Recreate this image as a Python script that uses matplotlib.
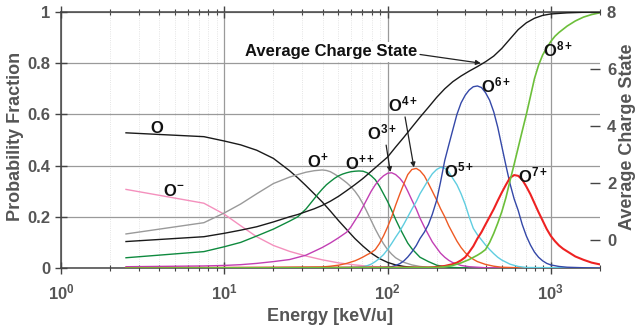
import numpy as np
import matplotlib
matplotlib.use("Agg")
import matplotlib.pyplot as plt

plt.rcParams['font.family'] = ['Liberation Sans', 'DejaVu Sans']
plt.rcParams['mathtext.fontset'] = 'custom'
plt.rcParams['mathtext.rm'] = 'Liberation Sans'
plt.rcParams['mathtext.bf'] = 'Liberation Sans:bold'
plt.rcParams['mathtext.it'] = 'Liberation Sans:italic'

# ---------------- data (energy in keV/u, probability fraction) ----------------
e_Om = [2.5, 7.5, 10, 12.6, 15.8, 20, 25.1, 31.6, 39.8, 50.1, 63.1, 79.4, 100, 126, 158, 2000]
p_Om = [0.307, 0.253, 0.21, 0.165, 0.122, 0.088, 0.065, 0.047, 0.032, 0.02, 0.012, 0.006,
        0.003, 0.001, 0, 0]

e_O0 = [2.5, 7.5, 10, 12.6, 15.8, 20, 25.1, 28.2, 31.6, 35.5, 39.8, 44.7, 50.1, 56.2, 63.1,
        70.8, 79.4, 89.1, 100, 112, 126, 141, 158, 200, 2000]
p_O0 = [0.528, 0.513, 0.496, 0.481, 0.46, 0.428, 0.38, 0.352, 0.322, 0.29, 0.258, 0.222,
        0.185, 0.15, 0.115, 0.085, 0.058, 0.037, 0.022, 0.012, 0.006, 0.003, 0.001, 0, 0]

e_O1 = [2.5, 7.5, 10, 12.6, 15.8, 20, 25.1, 28.2, 31.6, 35.5, 39.8, 42.2, 44.7, 47.3, 50.1,
        53.1, 56.2, 59.6, 63.1, 66.8, 70.8, 75, 79.4, 84.1, 89.1, 94.4, 100, 106, 112, 119,
        126, 141, 158, 178, 200, 251, 2000]
p_O1 = [0.133, 0.177, 0.215, 0.25, 0.29, 0.33, 0.355, 0.365, 0.374, 0.38, 0.383, 0.381,
        0.376, 0.367, 0.357, 0.345, 0.333, 0.318, 0.3, 0.278, 0.25, 0.218, 0.185, 0.152,
        0.122, 0.095, 0.072, 0.054, 0.04, 0.03, 0.022, 0.012, 0.006, 0.003, 0.001, 0, 0]

e_O2 = [2.5, 7.5, 10, 12.6, 15.8, 20, 25.1, 28.2, 31.6, 33.5, 35.5, 37.6, 39.8, 42.2, 44.7,
        47.3, 50.1, 53.1, 56.2, 59.6, 63.1, 66.8, 70.8, 75, 79.4, 84.1, 89.1, 94.4, 100, 106,
        112, 119, 126, 133, 141, 150, 158, 178, 200, 224, 251, 316, 2000]
p_O2 = [0.04, 0.064, 0.083, 0.1, 0.125, 0.152, 0.183, 0.2, 0.23, 0.25, 0.27, 0.29, 0.308,
        0.325, 0.338, 0.35, 0.36, 0.367, 0.372, 0.376, 0.378, 0.379, 0.378, 0.372, 0.36,
        0.345, 0.32, 0.29, 0.26, 0.225, 0.19, 0.155, 0.125, 0.097, 0.075, 0.057, 0.042,
        0.025, 0.011, 0.005, 0.002, 0, 0]

e_O3 = [2.5, 7.5, 10, 12.6, 15.8, 20, 25.1, 31.6, 35.5, 39.8, 44.7, 50.1, 56.2, 59.6, 63.1,
        66.8, 70.8, 75, 79.4, 84.1, 89.1, 94.4, 100, 106, 112, 119, 126, 133, 141, 150, 158,
        168, 178, 188, 200, 211, 224, 237, 251, 282, 316, 398, 2000]
p_O3 = [0.005, 0.008, 0.01, 0.013, 0.018, 0.025, 0.033, 0.05, 0.065, 0.08, 0.098, 0.118,
        0.14, 0.16, 0.185, 0.21, 0.24, 0.27, 0.3, 0.325, 0.345, 0.36, 0.37, 0.372, 0.365,
        0.35, 0.33, 0.3, 0.265, 0.23, 0.195, 0.16, 0.13, 0.102, 0.078, 0.058, 0.042, 0.03,
        0.021, 0.01, 0.005, 0.001, 0]

e_O4 = [2.5, 20, 39.8, 44.7, 50.1, 56.2, 63.1, 66.8, 70.8, 75, 79.4, 84.1, 89.1, 94.4, 100,
        106, 112, 119, 126, 133, 141, 150, 158, 168, 178, 188, 200, 211, 224, 237, 251, 266,
        282, 299, 316, 335, 355, 398, 447, 501, 631, 2000]
p_O4 = [0, 0.002, 0.004, 0.007, 0.011, 0.018, 0.028, 0.035, 0.043, 0.052, 0.06, 0.072,
        0.095, 0.125, 0.16, 0.2, 0.245, 0.29, 0.33, 0.365, 0.385, 0.389, 0.38, 0.36, 0.33,
        0.3, 0.265, 0.232, 0.2, 0.165, 0.135, 0.105, 0.08, 0.06, 0.045, 0.034, 0.025,
        0.014, 0.007, 0.003, 0.001, 0]

e_O5 = [2.5, 50.1, 63.1, 70.8, 75, 79.4, 84.1, 89.1, 94.4, 100, 106, 112, 119, 126, 133,
        141, 150, 158, 168, 178, 188, 200, 211, 224, 237, 251, 266, 282, 299, 316, 335, 355,
        376, 398, 422, 447, 473, 501, 562, 631, 708, 2000]
p_O5 = [0, 0.001, 0.003, 0.005, 0.009, 0.015, 0.025, 0.037, 0.052, 0.072, 0.096, 0.12,
        0.145, 0.172, 0.2, 0.23, 0.26, 0.29, 0.318, 0.345, 0.368, 0.385, 0.393, 0.39, 0.375,
        0.35, 0.325, 0.29, 0.248, 0.2, 0.155, 0.13, 0.11, 0.09, 0.072, 0.056, 0.042, 0.031,
        0.015, 0.006, 0.002, 0]

e_O6 = [2.5, 89.1, 100, 106, 112, 119, 126, 133, 141, 150, 158, 168, 178, 188, 200, 211,
        224, 237, 251, 266, 282, 299, 316, 335, 355, 376, 398, 422, 447, 473, 501, 531, 562,
        596, 631, 668, 708, 750, 794, 841, 891, 944, 1000, 1122, 1259, 1585, 2000]
p_O6 = [0, 0.001, 0.003, 0.005, 0.01, 0.017, 0.028, 0.043, 0.063, 0.088, 0.115, 0.14,
        0.17, 0.21, 0.265, 0.335, 0.42, 0.48, 0.54, 0.6, 0.645, 0.675, 0.695, 0.708, 0.711,
        0.705, 0.685, 0.655, 0.61, 0.55, 0.475, 0.4, 0.33, 0.27, 0.225, 0.17, 0.125, 0.09,
        0.062, 0.042, 0.028, 0.018, 0.012, 0.006, 0.003, 0.001, 0]

e_O7 = [2.5, 178, 200, 224, 251, 266, 282, 299, 316, 335, 355, 376, 398, 422, 447, 473,
        501, 531, 562, 596, 631, 668, 708, 750, 794, 841, 891, 944, 1000, 1059, 1122, 1189,
        1259, 1413, 1585, 1778, 2000]
p_O7 = [0, 0.002, 0.004, 0.008, 0.015, 0.021, 0.03, 0.042, 0.062, 0.085, 0.115, 0.14, 0.17,
        0.2, 0.23, 0.263, 0.295, 0.325, 0.352, 0.363, 0.36, 0.345, 0.318, 0.288, 0.253,
        0.218, 0.185, 0.152, 0.125, 0.105, 0.088, 0.075, 0.065, 0.045, 0.032, 0.021, 0.014]

e_O8 = [2.5, 200, 224, 251, 282, 316, 355, 376, 398, 422, 447, 473, 501, 531, 562, 596,
        631, 668, 708, 750, 794, 841, 891, 944, 1000, 1059, 1122, 1259, 1413, 1585, 1778, 2000]
p_O8 = [0, 0.002, 0.005, 0.01, 0.02, 0.033, 0.05, 0.06, 0.072, 0.1, 0.135, 0.175, 0.22,
        0.275, 0.34, 0.405, 0.47, 0.535, 0.6, 0.67, 0.74, 0.792, 0.832, 0.86, 0.885, 0.905,
        0.92, 0.945, 0.965, 0.98, 0.99, 0.997]

e_avg = [2.5, 7.5, 10, 12.6, 15.8, 20, 25.1, 28.2, 31.6, 35.5, 39.8, 44.7, 50.1, 56.2, 63.1,
         70.8, 79.4, 89.1, 100, 112, 126, 141, 158, 178, 200, 224, 251, 282, 316, 355, 398,
         447, 501, 562, 631, 708, 794, 891, 1000, 1259, 1585, 2000]
avg_charge = [-0.07, 0.10, 0.22, 0.33, 0.45, 0.62, 0.8, 0.88, 0.98, 1.08, 1.2, 1.35, 1.52,
              1.72, 1.93, 2.15, 2.4, 2.65, 2.9, 3.25, 3.6, 3.95, 4.3, 4.65, 5.0, 5.3, 5.55,
              5.75, 5.92, 6.08, 6.25, 6.45, 6.72, 7.05, 7.38, 7.62, 7.78, 7.88, 7.93, 7.97,
              7.99, 8.0]

series_energy = [e_Om, e_O0, e_O1, e_O2, e_O3, e_O4, e_O5, e_O6, e_O7, e_O8]
series_values = [p_Om, p_O0, p_O1, p_O2, p_O3, p_O4, p_O5, p_O6, p_O7, p_O8]
series_colors = ['#f490bd', '#1a1a1a', '#9a9a9a', '#0e8a3e', '#c23fb4',
                 '#ee5a24', '#5fcde0', '#3448a8', '#ee2222', '#6cbf3a']
series_widths = [1.0, 1.0, 1.0, 1.0, 1.0, 1.0, 1.0, 1.0, 1.5, 1.2]

x_ticks = [1, 10, 100, 1000]
x_tick_labels = [r'$\mathbf{10^{0}}$', r'$\mathbf{10^{1}}$',
                 r'$\mathbf{10^{2}}$', r'$\mathbf{10^{3}}$']
y_ticks = [0, 0.2, 0.4, 0.6, 0.8, 1.0]
y_tick_labels = ['0', '0.2', '0.4', '0.6', '0.8', '1']
y2_ticks = [0, 2, 4, 6, 8]
y2_tick_labels = ['0', '2', '4', '6', '8']

# ---------------- figure ----------------
grey_txt = '#555555'
spine_c = '#444444'

fig = plt.figure(figsize=(6.41, 3.33), dpi=100)
ax = fig.add_axes([0.0952, 0.1952, 0.8408, 0.7688])
ax.set_xscale('log')
ax.set_xlim(1, 2000)
ax.set_ylim(0, 1)

for ev, vals, col, lw in zip(series_energy, series_values, series_colors, series_widths):
    ax.plot(ev, vals, color=col, lw=lw, zorder=3, solid_joinstyle='round')

ax.set_xticks(x_ticks)
ax.set_xticklabels(x_tick_labels)
ax.set_yticks(y_ticks)
ax.set_yticklabels(y_tick_labels)

ax.grid(which='major', color='#9a9a9a', lw=0.9, zorder=0)
ax.grid(which='minor', axis='x', color='#dcdcdc', lw=0.6, ls=':', zorder=0)
ax.set_axisbelow(True)

ax.tick_params(axis='x', which='major', direction='inout', length=9, width=1,
               top=True, colors=spine_c, labelcolor=grey_txt, labelsize=12, pad=6)
ax.tick_params(axis='x', which='minor', direction='inout', length=5, width=0.8,
               top=True, colors=spine_c)
ax.tick_params(axis='y', which='major', direction='inout', length=9, width=1,
               colors=spine_c, labelcolor=grey_txt, labelsize=12, pad=3)
for lab in ax.get_yticklabels():
    lab.set_fontweight('bold')
for s in ['left', 'bottom', 'top']:
    ax.spines[s].set_color(spine_c)
    ax.spines[s].set_linewidth(1.1)
ax.spines['right'].set_visible(False)

ax.set_xlabel('Energy [keV/u]', fontsize=13, fontweight='bold', color=grey_txt, labelpad=4)
fig.text(16 / 641, 0.59, 'Probability Fraction', rotation=90, fontsize=13,
         fontweight='bold', color=grey_txt, ha='center', va='center')

ax2 = ax.twinx()
ax2.set_ylim(-1, 8)
ax2.plot(e_avg, avg_charge, color='#1a1a1a', lw=1.0, zorder=3)
ax2.set_yticks(y2_ticks)
ax2.set_yticklabels(y2_tick_labels)
ax2.tick_params(axis='y', direction='in', length=7, width=1, colors=spine_c,
                labelcolor=grey_txt, labelsize=12, pad=5)
for lab in ax2.get_yticklabels():
    lab.set_fontweight('bold')
for s in ax2.spines.values():
    s.set_visible(False)
fig.text(628 / 641, 0.59, 'Average Charge State', rotation=90, fontsize=13,
         fontweight='bold', color=grey_txt, ha='center', va='center')

# ---------------- annotations ----------------
lab_kw = dict(fontsize=12, color='#111111', ha='center', va='center', zorder=6)
ax.text(3.9, 0.547, r'$\mathbf{O}$', **lab_kw)
ax.text(4.9, 0.30, r'$\mathbf{O^{-}}$', **lab_kw)
ax.text(37.5, 0.415, r'$\mathbf{O^{+}}$', **lab_kw)
ax.text(68, 0.41, r'$\mathbf{O^{++}}$', **lab_kw)
ax.text(93, 0.53, r'$\mathbf{O^{3+}}$', **lab_kw)
ax.text(124, 0.64, r'$\mathbf{O^{4+}}$', **lab_kw)
ax.text(272, 0.38, r'$\mathbf{O^{5+}}$', **lab_kw)
ax.text(460, 0.712, r'$\mathbf{O^{6+}}$', **lab_kw)
ax.text(780, 0.362, r'$\mathbf{O^{7+}}$', **lab_kw)
ax.text(1110, 0.852, r'$\mathbf{O^{8+}}$', **lab_kw)

arrow_kw = dict(arrowstyle='-|>', color='#222222', lw=0.9, mutation_scale=7,
                shrinkA=0, shrinkB=0)
ax.annotate('', xy=(104, 0.375), xytext=(98, 0.48), arrowprops=arrow_kw, zorder=6)
ax.annotate('', xy=(145, 0.393), xytext=(128, 0.59), arrowprops=arrow_kw, zorder=6)

ax.text(45, 0.844, 'Average Charge State', fontsize=12, fontweight='bold',
        color='#111111', ha='center', va='center', zorder=6,
        bbox=dict(boxstyle='square,pad=0.15', fc='white', ec='none'))
ax.annotate('', xy=(372, 0.80), xytext=(158, 0.834), arrowprops=arrow_kw, zorder=6)

fig.savefig('out.png', dpi=100)
